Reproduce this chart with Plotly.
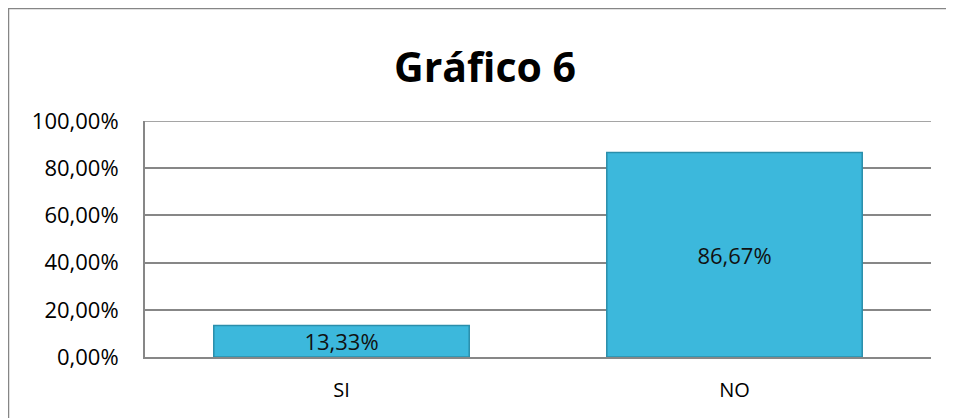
import plotly.graph_objects as go

categories = ["SI", "NO"]
values = [0.1333, 0.8667]
title_text = "Gráfico 6"

# the page body adds an 8px offset; layout measured relative to the figure
L, R, T, B = 137, 31, 113, 69
W, H = 954, 418
pw = W - L - R
ph = H - T - B

def px_x(x):
    return (x - L) / pw

def px_y(y):
    return (H - B - y) / ph

FONT = "Open Sans, Liberation Sans, sans-serif"
GRID = "#878787"

fig = go.Figure()
fig.add_trace(go.Bar(
    x=categories, y=values,
    marker=dict(color="#3cb8dc", line=dict(color="#2a8eab", width=1.5)),
    text=values, texttemplate="%{y:.2%}", textposition="inside",
    insidetextanchor="middle", constraintext="none",
    textfont=dict(family=FONT, size=22, color="#111111"),
    width=0.65,
))

fig.update_layout(
    width=W, height=H,
    margin=dict(l=L, r=R, t=T, b=B),
    paper_bgcolor="white", plot_bgcolor="white",
    separators=",.",
    showlegend=False,
    title=dict(text="<b>" + title_text + "</b>", x=0.5, xanchor="center",
               y=1 - 60 / H, yanchor="middle",
               font=dict(family=FONT, size=41, color="#000000")),
    font=dict(family=FONT, size=21, color="#000000"),
    xaxis=dict(showline=True, linecolor=GRID, linewidth=2, ticks="",
               tickfont=dict(size=20), ticklabelstandoff=14, fixedrange=True),
    yaxis=dict(range=[0, 1], tickvals=[0, 0.2, 0.4, 0.6, 0.8, 1.0],
               tickformat=".2%", showgrid=True,
               gridcolor=GRID, gridwidth=1.5, showline=True,
               linecolor=GRID, linewidth=2, ticks="",
               ticklabelstandoff=20, tickfont=dict(size=22), zeroline=False),
    shapes=[
        dict(type="line", xref="paper", yref="y", x0=0, x1=1, y0=1, y1=1,
             line=dict(color=GRID, width=1.5), layer="below"),
        dict(type="line", xref="paper", yref="paper",
             x0=px_x(0), x1=px_x(0), y0=px_y(0), y1=px_y(H + 5),
             line=dict(color="#868686", width=2.5)),
        dict(type="line", xref="paper", yref="paper",
             x0=px_x(0), x1=px_x(W + 5), y0=px_y(0), y1=px_y(0),
             line=dict(color="#868686", width=2.5)),
    ],
)

fig.write_html("out.html")
